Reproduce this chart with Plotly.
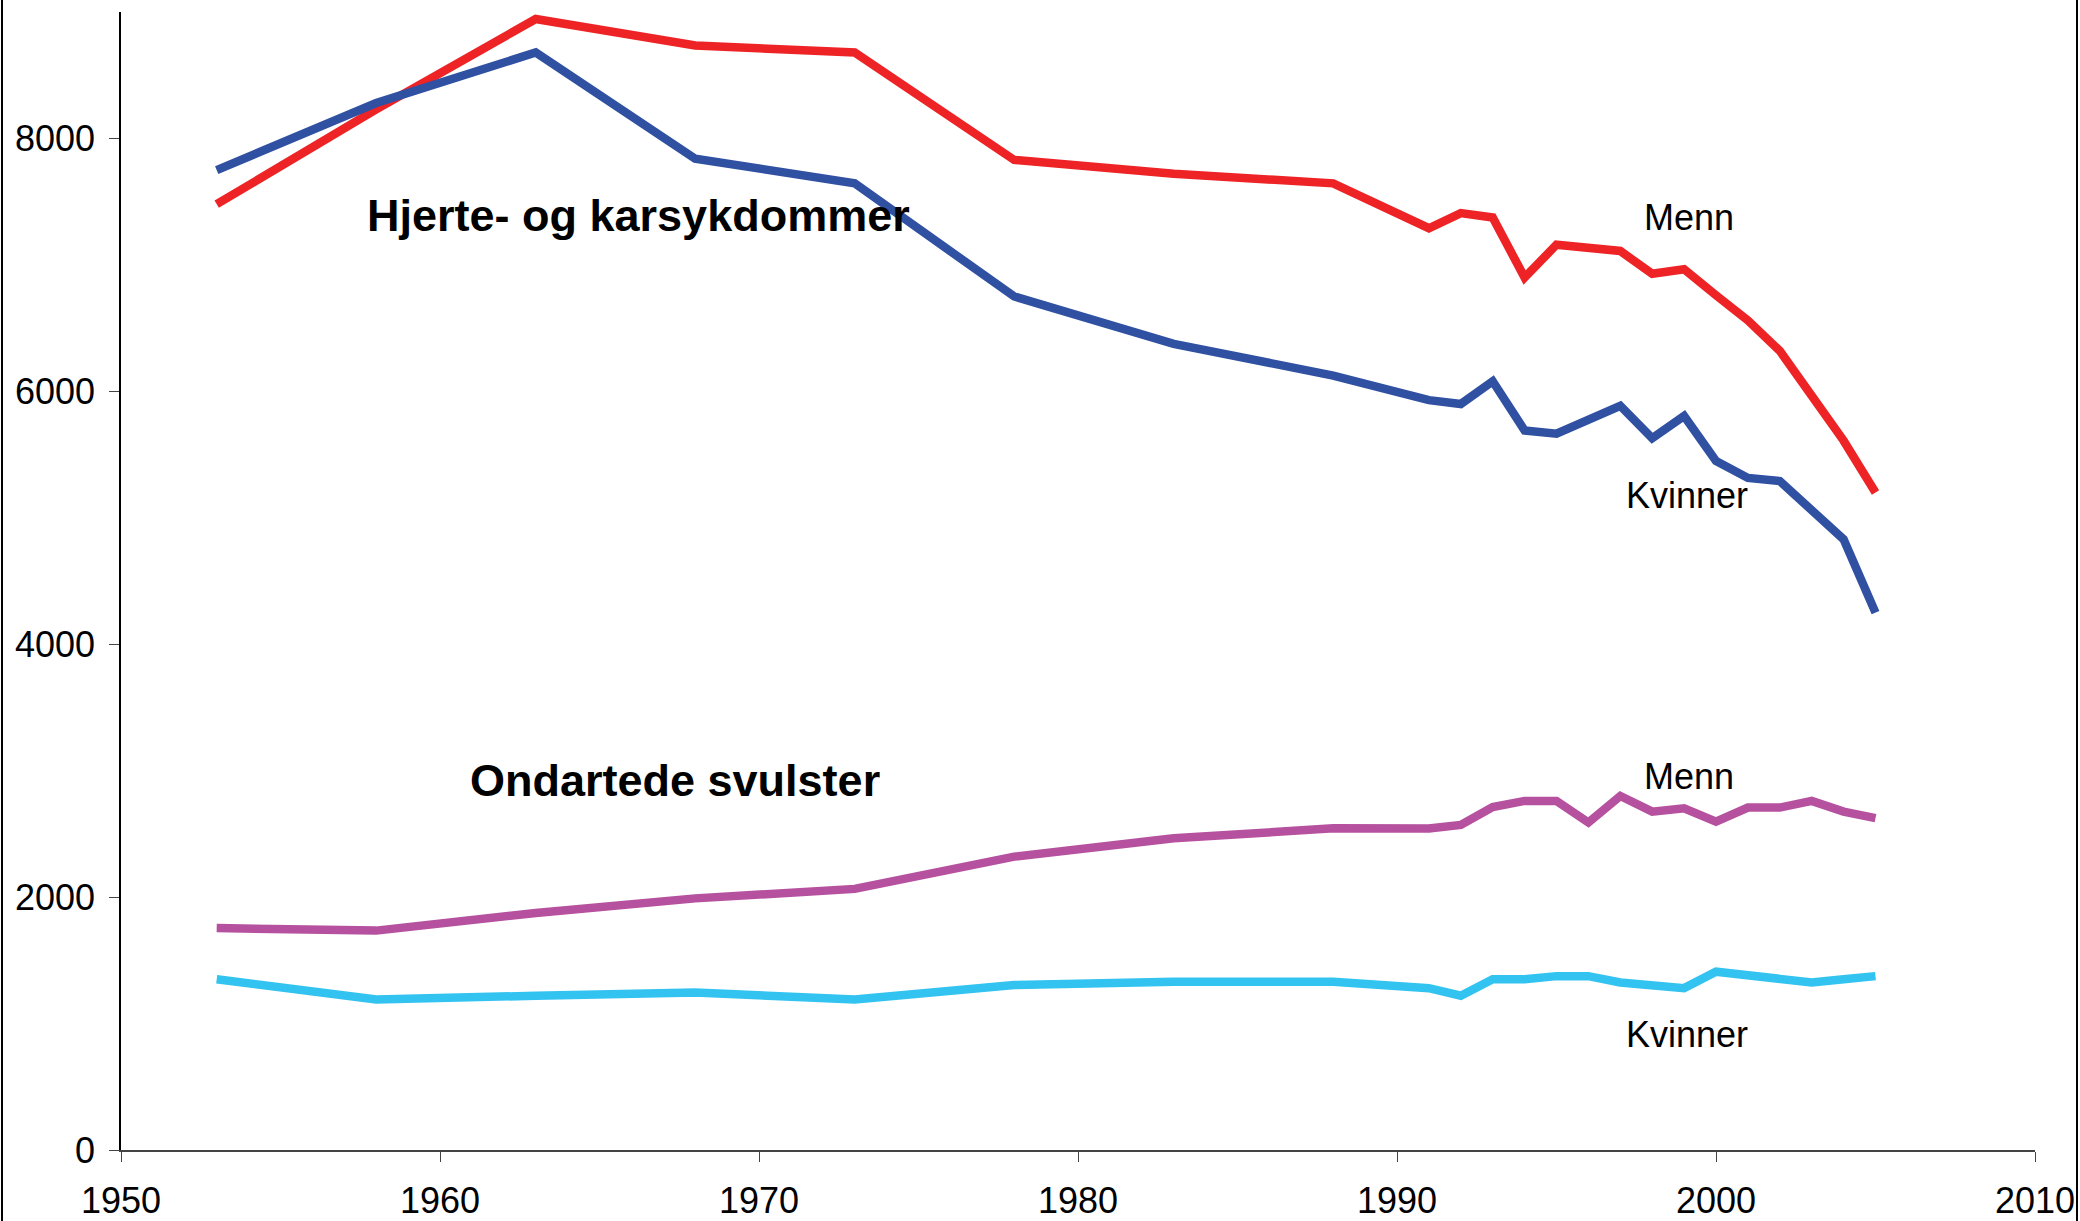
import plotly.graph_objects as go

years = [1953, 1958, 1963, 1968, 1973, 1978, 1983, 1988, 1991, 1992, 1993, 1994,
         1995, 1996, 1997, 1998, 1999, 2000, 2001, 2002, 2003, 2004, 2005]

hjerte_menn = [7480, 8230, 8945, 8735, 8680, 7830, 7720, 7645, 7290, 7410, 7375, 6900,
               7160, 7135, 7110, 6930, 6965, 6760, 6560, 6320, 5965, 5610, 5200]
hjerte_kvinner = [7750, 8280, 8680, 7840, 7645, 6750, 6375, 6125, 5930, 5900, 6080, 5690,
                  5665, 5775, 5885, 5630, 5805, 5450, 5315, 5290, 5070, 4830, 4250]
svulst_menn = [1755, 1735, 1875, 1990, 2065, 2320, 2465, 2544, 2542, 2571, 2713, 2761,
               2761, 2590, 2800, 2676, 2703, 2597, 2708, 2708, 2761, 2676, 2624]
svulst_kvinner = [1350, 1190, 1220, 1245, 1190, 1305, 1330, 1330, 1280, 1220, 1350, 1350,
                  1375, 1375, 1325, 1300, 1280, 1410, 1380, 1350, 1325, 1350, 1375]

x_ticks = [1950, 1960, 1970, 1980, 1990, 2000, 2010]
y_ticks = [0, 2000, 4000, 6000, 8000]

series = [
    ("Hjerte Menn", hjerte_menn, "#EE2326"),
    ("Hjerte Kvinner", hjerte_kvinner, "#3050A2"),
    ("Svulster Menn", svulst_menn, "#B5519E"),
    ("Svulster Kvinner", svulst_kvinner, "#33C3F0"),
]

FONT = "Liberation Sans, Arial, Helvetica, sans-serif"

fig = go.Figure()
for name, vals, col in series:
    fig.add_trace(go.Scatter(x=years, y=vals, mode="lines", name=name,
                             line=dict(color=col, width=8.5), showlegend=False))

annotations = [
    dict(x=1957.64, y=7390, text="<b>Hjerte- og karsykdommer</b>", xanchor="left", size=45),
    dict(x=1960.87, y=2922, text="<b>Ondartede svulster</b>", xanchor="left", size=45),
    dict(x=1999.15, y=7372, text="Menn", xanchor="center", size=36),
    dict(x=1999.1, y=5175, text="Kvinner", xanchor="center", size=36),
    dict(x=1999.15, y=2952, text="Menn", xanchor="center", size=36),
    dict(x=1999.1, y=917, text="Kvinner", xanchor="center", size=36),
]
for a in annotations:
    fig.add_annotation(x=a["x"], y=a["y"], text=a["text"], xanchor=a["xanchor"],
                       yanchor="middle", showarrow=False,
                       font=dict(family=FONT, size=a["size"], color="black"))

W, H = 2080, 1221
ml, mr, mt, mb = 121, 45, 12, 71
pw, ph = W - ml - mr, H - mt - mb
for px in (2, 2077):
    xp = (px - ml) / pw
    fig.add_shape(type="line", xref="paper", yref="paper", x0=xp, x1=xp,
                  y0=-mb / ph, y1=1 + mt / ph, line=dict(color="black", width=2))

fig.update_layout(
    width=W, height=H, autosize=False,
    margin=dict(l=ml, r=mr, t=mt, b=mb, pad=0),
    paper_bgcolor="white", plot_bgcolor="white",
    font=dict(family=FONT, size=36, color="black"),
    xaxis=dict(range=[1950, 2010], tickvals=x_ticks, ticks="outside", ticklen=10,
               tickcolor="#444", showline=True, linecolor="#444", linewidth=1.5,
               showgrid=False, zeroline=False, ticklabelstandoff=8,
               automargin=False, tickfont=dict(size=36)),
    yaxis=dict(range=[0, 9000], tickvals=y_ticks, ticks="outside", ticklen=10,
               tickcolor="#444", showline=True, linecolor="black", linewidth=1.5,
               showgrid=False, zeroline=False, ticklabelstandoff=7,
               automargin=False, tickfont=dict(size=36)),
)

fig.write_html(
    "out.html",
    config={"displayModeBar": False},
    post_script="document.body.style.margin='0';document.body.style.overflow='hidden';",
)
